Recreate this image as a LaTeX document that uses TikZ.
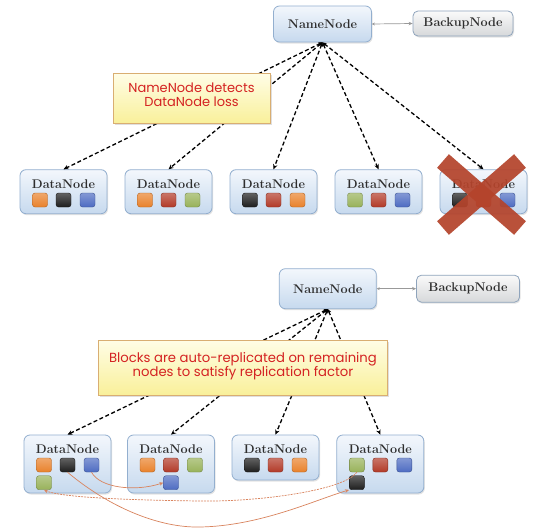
\documentclass[tikz,border=0pt]{standalone}
\usepackage{fontspec}
\newfontfamily\hand{Poppins}
\usetikzlibrary{arrows.meta,shadows}
\definecolor{cO}{HTML}{E9822C}
\definecolor{cK}{HTML}{1E1E1E}
\definecolor{cB}{HTML}{4E6CC2}
\definecolor{cR}{HTML}{B23A28}
\definecolor{cG}{HTML}{98B25A}
\definecolor{dnTop}{HTML}{F3F7FC}
\definecolor{dnBot}{HTML}{C6D9EE}
\definecolor{dnLine}{HTML}{93AFCF}
\definecolor{bkTop}{HTML}{FAFAFA}
\definecolor{bkBot}{HTML}{D6D8DA}
\definecolor{bkLine}{HTML}{8FA4BC}
\definecolor{clTop}{HTML}{FFFDE6}
\definecolor{clBot}{HTML}{F9F09A}
\definecolor{clLine}{HTML}{D9AE72}
\definecolor{txRed}{HTML}{D42222}
\definecolor{cRep}{HTML}{D9845E}
\definecolor{cX}{HTML}{B4442C}
\begin{document}
\begin{tikzpicture}[x=1pt,y=-1pt,
  dn/.style={rounded corners=6pt, draw=dnLine, line width=0.8pt, top color=dnTop, bottom color=dnBot, minimum width=87pt, inner sep=0pt,
    drop shadow={opacity=0.22, shadow xshift=1pt, shadow yshift=-1.5pt}},
  bk/.style={rounded corners=5pt, draw=bkLine, line width=0.8pt, top color=bkTop, bottom color=bkBot, inner sep=0pt,
    drop shadow={opacity=0.22, shadow xshift=1pt, shadow yshift=-1.5pt}},
  dnt/.style={font=\bfseries\fontsize{12.6}{15}\selectfont, text=black!82, inner sep=0pt},
  blk/.style={rounded corners=2.5pt, minimum width=15pt, minimum height=14pt, inner sep=0pt, draw=#1!75!black, line width=0.4pt, top color=#1!70!white, bottom color=#1},
  callout/.style={draw=clLine, line width=0.8pt, top color=clTop, bottom color=clBot, inner sep=0pt,
    drop shadow={opacity=0.25, shadow xshift=1.5pt, shadow yshift=-1.5pt}},
  handtxt/.style={text=txRed, align=center, font=\hand\fontsize{13}{14}\selectfont, inner sep=0pt},
  ctl/.style={black, line width=1.3pt, dash pattern=on 4pt off 2.5pt, {Stealth[length=4pt,width=4pt]}-{Stealth[length=5pt,width=4.5pt]}},
  bkl/.style={black!40, line width=0.7pt, {Stealth[length=3pt,width=3pt]}-{Stealth[length=4pt,width=3.5pt]}},
  rep/.style={draw=cRep, line width=0.7pt, -{Stealth[length=4pt,width=3.5pt]}},
  repd/.style={rep, dash pattern=on 2pt off 1pt}
]
\useasboundingbox (0,0) rectangle (544,530);
\fill[white] (0,0) rectangle (544,530);

% ================= TOP =================
\node[dn, minimum width=98pt, minimum height=36pt] (nn1) at (322.5,24) {};
\node[dnt] (nn1l) at (322.5,24) {NameNode};
\node[bk, minimum width=100pt, minimum height=25pt] (bk1) at (463,23.5) {};
\node[dnt] (bk1l) at (463,23.5) {BackupNode};
\draw[bkl] (nn1.east) -- (bk1.west);

\foreach \i/\x/\a/\b/\c in {1/63.5/cO/cK/cB, 2/168.5/cO/cR/cG, 3/273.5/cK/cR/cO, 4/378.5/cG/cR/cB, 5/483.5/cK/cR/cB} {
  \node[dn, minimum height=44pt] (t\i) at (\x,191.7) {};
  \node[dnt] (t\i l) at (\x,184) {DataNode};
  \node[blk=\a] (t\i a) at ({\x-23.5},200) {};
  \node[blk=\b] (t\i b) at (\x,200) {};
  \node[blk=\c] (t\i c) at ({\x+24},200) {};
}
\foreach \i in {1,...,5} { \draw[ctl] (nn1.south) -- (t\i.north); }

\node[callout, minimum width=157pt, minimum height=50pt] (c1) at (191.5,98.5) {};
\node[handtxt] (c1t) at (191.5,95) {NameNode detects\\DataNode loss};

% red cross over the lost DataNode
\draw[cX, opacity=0.93, line width=18pt] (443,161) -- (520,228);
\draw[cX, opacity=0.93, line width=18pt] (520,161) -- (443,228);

% ================= BOTTOM =================
\node[dn, minimum width=97pt, minimum height=40pt] (nn2) at (327.8,288.7) {};
\node[dnt] (nn2l) at (327.8,288.7) {NameNode};
\node[bk, minimum width=103pt, minimum height=27pt] (bk2) at (468,288.7) {};
\node[dnt] (bk2l) at (468,288.7) {BackupNode};
\draw[bkl] (nn2.east) -- (bk2.west);

\node[dn, minimum height=58pt] (d1) at (67.5,464) {};
\node[dn, minimum height=58pt] (d2) at (171,464) {};
\node[dn, minimum height=45pt] (d3) at (275.5,457.5) {};
\node[dn, minimum height=58pt] (d4) at (380.3,464) {};
\foreach \i/\x/\a/\b/\c in {1/67.5/cO/cK/cB, 2/171/cO/cR/cG, 3/275.5/cK/cR/cO, 4/380.3/cG/cR/cB} {
  \node[dnt] (d\i l) at (\x,449) {DataNode};
  \node[blk=\a] (d\i a) at ({\x-23.5},465) {};
  \node[blk=\b] (d\i b) at (\x,465) {};
  \node[blk=\c] (d\i c) at ({\x+24},465) {};
}
\node[blk=cG] (d1d) at (44,482.7) {};
\node[blk=cB] (d2d) at (171,482.7) {};
\node[blk=cK] (d4d) at (356.8,482.7) {};

\foreach \i in {1,...,4} { \draw[ctl] (nn2.south) -- (d\i.north); }

\node[callout, minimum width=289pt, minimum height=55pt] (c2) at (243,367.5) {};
\node[handtxt, font=\hand\fontsize{13.2}{14.5}\selectfont] (c2t) at (243,366) {Blocks are auto-replicated on remaining\\nodes to satisfy replication factor};

% replication curves
\draw[rep] (d1c.south) .. controls (100,488) and (135,492) .. (d2d.west);
\draw[rep] (d1b.south) .. controls (110,508) and (160,528) .. (200,527)
           .. controls (260,526) and (315,500) .. (d4d.south west);
\draw[repd] (d4a.south) .. controls (345,490) and (260,502) .. (200,501)
           .. controls (120,500) and (60,497) .. (d1d.south);
\end{tikzpicture}
\end{document}
